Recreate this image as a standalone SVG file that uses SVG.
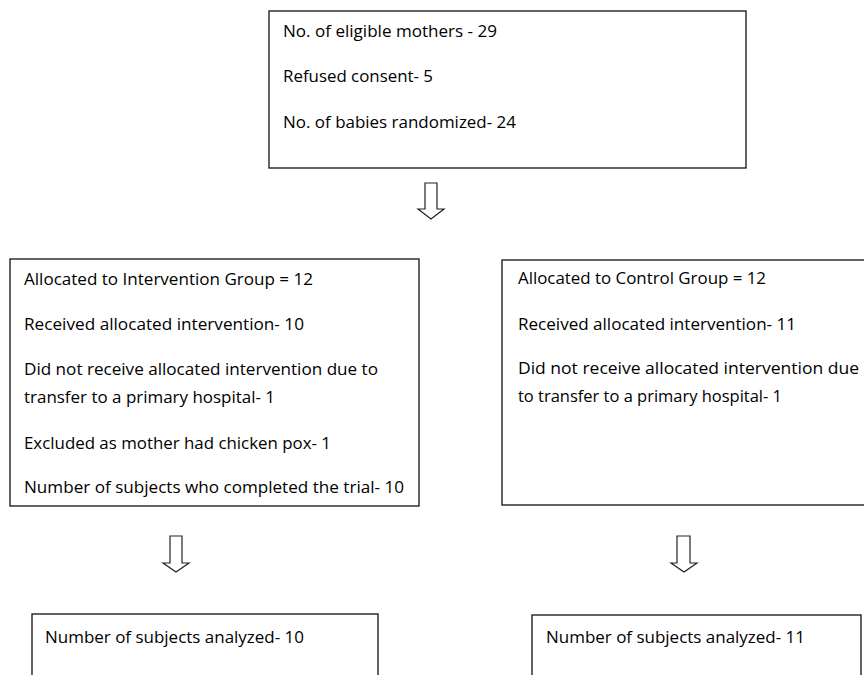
<svg xmlns="http://www.w3.org/2000/svg" width="864" height="675" viewBox="0 0 864 675">
<style>
.box{fill:#fff;stroke:#111;stroke-width:1.3}
.arr{fill:#fff;stroke:#222;stroke-width:1.2;stroke-linejoin:miter}
text{font-family:"Open Sans","Liberation Sans",sans-serif;font-size:16px;fill:#000}
</style>
<rect width="864" height="675" fill="#fff"/>
<g id="connectors">
<path class="arr" d="M425,183 H437 V209 H444 L431,219 L418,209 H425 Z"/>
<path class="arr" d="M170,536 H182 V563 H189 L176,572 L163,563 H170 Z"/>
<path class="arr" d="M677,536 H690 V563 H697 L684,572 L671,563 H677 Z"/>
</g>
<g id="enrollment">
<rect class="box" x="269" y="11" width="477" height="157"/>
<text x="283" y="37" textLength="214" lengthAdjust="spacingAndGlyphs">No. of eligible mothers - 29</text>
<text x="283" y="82" textLength="150" lengthAdjust="spacingAndGlyphs">Refused consent- 5</text>
<text x="283" y="128" textLength="233" lengthAdjust="spacingAndGlyphs">No. of babies randomized- 24</text>
</g>
<g id="intervention">
<rect class="box" x="10" y="259" width="409" height="247"/>
<text x="24" y="285" textLength="289" lengthAdjust="spacingAndGlyphs">Allocated to Intervention Group = 12</text>
<text x="24" y="330" textLength="280" lengthAdjust="spacingAndGlyphs">Received allocated intervention- 10</text>
<text x="24" y="375" textLength="354" lengthAdjust="spacingAndGlyphs">Did not receive allocated intervention due to</text>
<text x="24" y="403" textLength="251" lengthAdjust="spacingAndGlyphs">transfer to a primary hospital- 1</text>
<text x="24" y="449" textLength="307" lengthAdjust="spacingAndGlyphs">Excluded as mother had chicken pox- 1</text>
<text x="24" y="493" textLength="380" lengthAdjust="spacingAndGlyphs">Number of subjects who completed the trial- 10</text>
</g>
<g id="control">
<rect class="box" x="502" y="260" width="370" height="245"/>
<text x="518" y="284" textLength="248" lengthAdjust="spacingAndGlyphs">Allocated to Control Group = 12</text>
<text x="518" y="330" textLength="278" lengthAdjust="spacingAndGlyphs">Received allocated intervention- 11</text>
<text x="518" y="374" textLength="341" lengthAdjust="spacingAndGlyphs">Did not receive allocated intervention due</text>
<text x="518" y="402" textLength="264" lengthAdjust="spacingAndGlyphs">to transfer to a primary hospital- 1</text>
</g>
<g id="analysis-intervention">
<rect class="box" x="32" y="614" width="346" height="80"/>
<text x="45" y="643" textLength="259" lengthAdjust="spacingAndGlyphs">Number of subjects analyzed- 10</text>
</g>
<g id="analysis-control">
<rect class="box" x="532" y="615" width="329" height="80"/>
<text x="546" y="643" textLength="259" lengthAdjust="spacingAndGlyphs">Number of subjects analyzed- 11</text>
</g>
</svg>
